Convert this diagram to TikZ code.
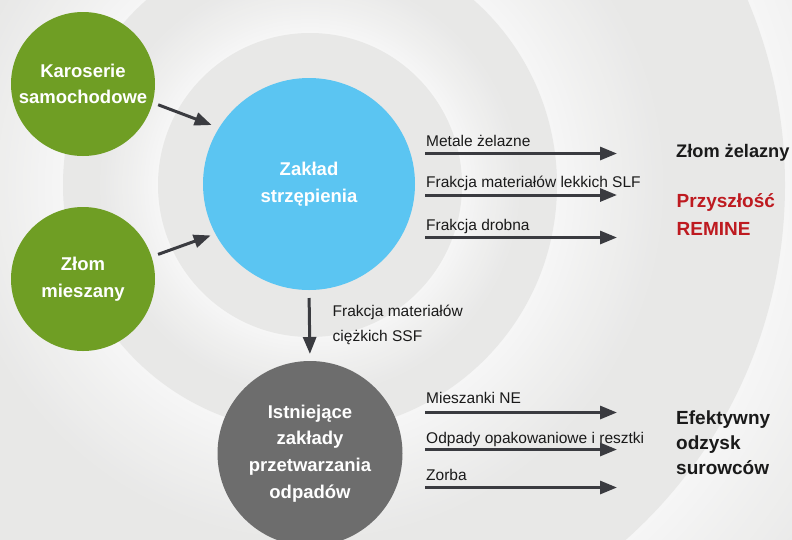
\documentclass[tikz,border=0pt]{standalone}
\usepackage{fontspec}
\setmainfont{Liberation Sans}
\usetikzlibrary{arrows.meta}
\definecolor{bglight}{HTML}{F6F6F6}
\definecolor{bggray}{HTML}{E8E8E7}
\definecolor{leaf}{HTML}{6F9E24}
\definecolor{sky}{HTML}{5BC5F2}
\definecolor{stone}{HTML}{6D6D6D}
\definecolor{ink}{HTML}{3A3B40}
\definecolor{remred}{HTML}{BE1A20}
\definecolor{txt}{HTML}{1A1A1A}
\tikzset{
  bubble/.style={circle, inner sep=0pt, outer sep=0pt, text=white, align=center,
    font=\fontsize{18.5}{26.7}\selectfont\bfseries},
  flow/.style={line width=3pt, draw=ink, -{Triangle[length=17pt,width=13pt]}},
  lab/.style={anchor=base west, inner sep=0pt, text=txt, font=\fontsize{15.5}{25}\selectfont},
  res/.style={anchor=base west, inner sep=0pt, text=txt, font=\fontsize{19}{27}\selectfont\bfseries},
}
\begin{document}
\begin{tikzpicture}[x=1pt,y=-1pt]
\useasboundingbox (0,0) rectangle (792,539);
\begin{scope}
  \clip (0,0) rectangle (792,539);
  \fill[bggray] (0,0) rectangle (792,539);
  \foreach \rin/\rout/\L in {475/700/150, 247/475/110, 152/247/60} {
    \fill[bggray] (310,185) circle[radius=\rout];
    \foreach \k in {30,29,...,0} {
      \pgfmathsetmacro\rr{\rin+\L*\k/30}
      \pgfmathsetmacro\pp{100-100*\k/30}
      \fill[bglight!\pp!bggray] (310,185) circle[radius=\rr];
    }
  }
  \fill[bggray] (310,185) circle[radius=152];
\end{scope}

\node[bubble, fill=leaf, minimum size=144pt] (kar) at (83,84) {Karoserie\\samochodowe};
\node[bubble, fill=leaf, minimum size=144pt] (mix) at (83,279) {Złom\\mieszany};
\node[bubble, fill=sky, minimum size=212pt] (shr) at (309,184) {Zakład\\strzępienia};
\node[bubble, fill=stone, minimum size=185pt] (proc) at (310,453.5) {Istniejące\\zakłady\\przetwarzania\\odpadów};

\draw[flow, shorten <=6pt, shorten >=8pt] (kar.-15) -- (shr.148);
\draw[flow, shorten <=7pt, shorten >=5pt] (mix.18) -- (shr.208);
\draw[flow, shorten <=8pt, shorten >=7pt] (shr.south) -- (proc.north);

\coordinate (a1s) at (425,153.5); \coordinate (a1e) at (617,153.5);
\coordinate (a2s) at (425,195);   \coordinate (a2e) at (617,195);
\coordinate (a3s) at (425,237.5); \coordinate (a3e) at (617,237.5);
\coordinate (b1s) at (425,412.5); \coordinate (b1e) at (617,412.5);
\coordinate (b2s) at (425,449.5); \coordinate (b2e) at (617,449.5);
\coordinate (b3s) at (425,487.5); \coordinate (b3e) at (617,487.5);
\draw[flow] (a1s) -- (a1e);
\draw[flow] (a2s) -- (a2e);
\draw[flow] (a3s) -- (a3e);
\draw[flow] (b1s) -- (b1e);
\draw[flow] (b2s) -- (b2e);
\draw[flow] (b3s) -- (b3e);

\node[lab] (l1) at (426,146) {Metale żelazne};
\node[lab] (l2) at (426,187) {Frakcja materiałów lekkich SLF};
\node[lab] (l3) at (426,230) {Frakcja drobna};
\node[lab] (l4) at (426,403.5) {Mieszanki NE};
\node[lab] (l5) at (426,443.5) {Odpady opakowaniowe i resztki};
\node[lab] (l6) at (426,480) {Zorba};
\node[lab] (l7) at (332.5,316) {Frakcja materiałów};
\node[lab] (l8) at (332.5,341) {ciężkich SSF};

\node[res, font=\fontsize{18.2}{27}\selectfont\bfseries] (r1) at (676,157.3) {Złom żelazny};
\node[res, text=remred] (r2) at (676.5,207.3) {Przyszłość};
\node[res, text=remred] (r3) at (676.5,235.7) {REMINE};
\node[res] (r4) at (676,424) {Efektywny};
\node[res] (r5) at (676,449) {odzysk};
\node[res] (r6) at (676,474) {surowców};
\end{tikzpicture}
\end{document}
